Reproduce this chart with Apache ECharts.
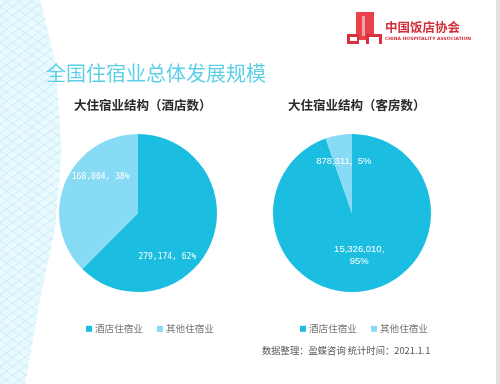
<!DOCTYPE html>
<html><head><meta charset="utf-8">
<script src="https://cdn.jsdelivr.net/npm/echarts@6/dist/echarts.min.js"></script>
<style>html,body{margin:0;padding:0;background:#fff}#c{width:500px;height:384px}</style>
</head><body><div id="c"></div>
<script>
const categories = ['酒店住宿业', '其他住宿业'];
const hotelCountValues = [279174, 168004];
const roomCountValues = [15326010, 878311];
const mainTitle = '全国住宿业总体发展规模';
const subTitles = ['大住宿业结构（酒店数）', '大住宿业结构（客房数）'];
const footnote = '数据整理：盈蝶咨询 统计时间：2021.1.1';
const colors = ['#1bbde1', '#88dbf4'];

function fmt(n){ return String(n).replace(/\B(?=(\d{3})+(?!\d))/g, ','); }

const chart = echarts.init(document.getElementById('c'), null, {renderer:'canvas'});

// decorative left wireframe
const deco = [];
const edge = [[0,0],[40,0],[55,60],[62,150],[55,230],[40,300],[25,384],[0,384]];
deco.push({type:'polygon', shape:{points:edge}, style:{fill:'rgba(140,220,245,0.18)'}, silent:true, z:-10});
for (let i=-20;i<420;i+=9){
  deco.push({type:'line', shape:{x1:0,y1:i,x2:60,y2:i-45}, style:{stroke:'rgba(110,205,235,0.45)', lineWidth:0.6}, silent:true, z:-9});
  deco.push({type:'line', shape:{x1:0,y1:i,x2:60,y2:i+40}, style:{stroke:'rgba(110,205,235,0.35)', lineWidth:0.6}, silent:true, z:-9});
}
deco.push({type:'polygon', shape:{points:[[40,-5],[70,-5],[70,390],[25,390],[40,300],[55,230],[62,150],[55,60]]}, style:{fill:'#fff'}, silent:true, z:-8});

const option = {
  animation:false,
  backgroundColor:'#ffffff',
  color: colors,
  graphic: deco.concat([
    {type:'rect', shape:{x:496,y:0,width:4,height:384}, style:{fill:'#e2e2e2'}, silent:true},
    // logo
    {type:'rect', shape:{x:356,y:12,width:18,height:28}, style:{fill:'#e8424e'}, silent:true},
    {type:'rect', shape:{x:362,y:16,width:3,height:20}, style:{fill:'#f7a0a6'}, silent:true},
    {type:'rect', shape:{x:347,y:34,width:12,height:10}, style:{fill:'#d9303d'}, silent:true},
    {type:'rect', shape:{x:350,y:37,width:7,height:4}, style:{fill:'#fff'}, silent:true},
    {type:'rect', shape:{x:366,y:34,width:16,height:10}, style:{fill:'#d9303d'}, silent:true},
    {type:'rect', shape:{x:369,y:37,width:10,height:7}, style:{fill:'#fff'}, silent:true},
    {type:'text', left:385, top:21, style:{text:'中国饭店协会', fill:'#d32f3c', font:'bold 12.5px "Noto Sans CJK SC"'}},
    {type:'text', left:385, top:36, style:{text:'CHINA HOSPITALITY ASSOCIATION', fill:'#d32f3c', font:'bold 4.5px "DejaVu Sans"'}},
    // titles
    {type:'text', left:46, top:63, style:{text:mainTitle, fill:'#5ccfe7', font:'20px "Noto Sans CJK SC"'}},
    {type:'text', left:74, top:99, style:{text:subTitles[0], fill:'#2a2a2a', font:'bold 12.5px "Noto Sans CJK SC"'}},
    {type:'text', left:288, top:99, style:{text:subTitles[1], fill:'#2a2a2a', font:'bold 12.5px "Noto Sans CJK SC"'}},
    {type:'text', left:262, top:346, style:{text:footnote, fill:'#555', font:'9.3px "Noto Sans CJK SC"'}}
  ]),
  legend:[
    {data:categories, left:81, top:319, icon:'rect', itemWidth:6, itemHeight:6, itemGap:14,
     textStyle:{color:'#777', fontSize:9.6, fontFamily:'Noto Sans CJK SC', padding:[0,0,0,-2]}},
    {data:categories, left:295, top:319, icon:'rect', itemWidth:6, itemHeight:6, itemGap:14,
     textStyle:{color:'#777', fontSize:9.6, fontFamily:'Noto Sans CJK SC', padding:[0,0,0,-2]}}
  ],
  series:[
    {type:'pie', center:[138,213], radius:79, startAngle:90, clockwise:true, percentPrecision:0,
     label:{position:'inside', color:'#fff', fontSize:8, fontFamily:'DejaVu Sans Mono',
       formatter:p=>fmt(p.value)+', '+Math.round(p.percent)+'%'},
     labelLine:{show:false}, emphasis:{disabled:true},
     data: categories.map((n,i)=>({name:n, value:hotelCountValues[i],
       label:{offset: i===0 ? [-10,28] : [2,-20]}}))},
    {type:'pie', center:[352,213], radius:79, startAngle:90, clockwise:true, percentPrecision:0,
     label:{position:'inside', color:'#fff', fontSize:9.5, fontFamily:'Liberation Sans', lineHeight:12,
       formatter:p=> p.dataIndex===0 ? fmt(p.value)+',\n'+Math.round(p.percent)+'%' : fmt(p.value)+',  '+Math.round(p.percent)+'%'},
     labelLine:{show:false}, emphasis:{disabled:true},
     data: categories.map((n,i)=>({name:n, value:roomCountValues[i],
       label:{offset: i===0 ? [0,0] : [-1,-10]}}))}
  ]
};
chart.setOption(option);
</script></body></html>
